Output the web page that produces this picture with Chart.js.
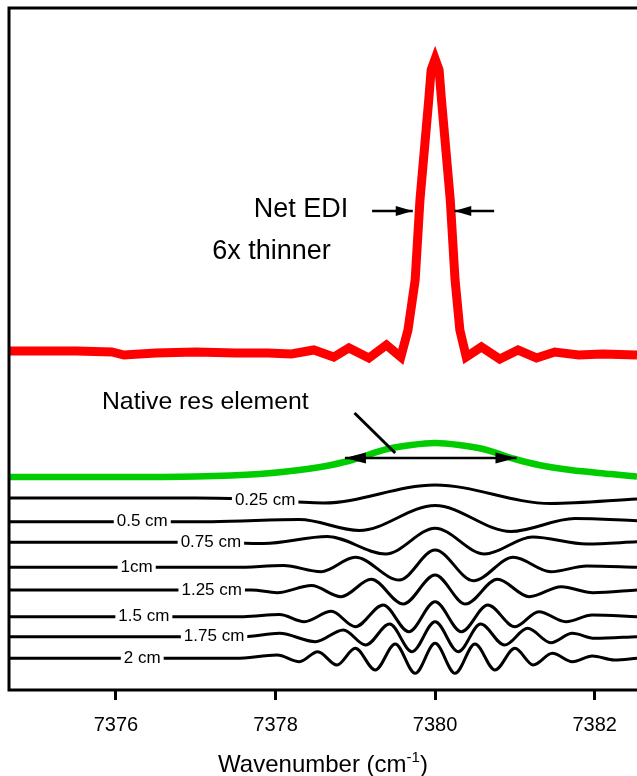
<!DOCTYPE html>
<html>
<head>
<meta charset="utf-8">
<script src="https://cdn.jsdelivr.net/npm/chart.js@4.4.0/dist/chart.umd.min.js"></script>
<style>
  html, body { margin: 0; padding: 0; background: #fff; }
  #wrap { width: 637px; height: 776px; }
</style>
</head>
<body>
<div id="wrap"><canvas id="chart" width="637" height="776"></canvas></div>
<script>
const FONT = '"Liberation Sans", Arial, Helvetica, sans-serif';

var tickValues = [7376, 7378, 7380, 7382];

// [wavenumber, intensity] pairs, traces already offset for stacking
var netEdi = [
  [7374.66, 33.9], [7375.5, 33.9], [7375.95, 33.8], [7376.1, 33.5], [7376.5, 33.7],
  [7377.0, 33.8], [7377.5, 33.7], [7377.9, 33.7], [7378.2, 33.6], [7378.48, 34.0],
  [7378.73, 33.3], [7378.92, 34.2], [7379.17, 33.2], [7379.39, 34.5], [7379.57, 33.3],
  [7379.66, 36.0], [7379.75, 41.0], [7379.81, 49.0], [7379.92, 59.0], [7379.95, 62.0],
  [7380.0, 63.1],
  [7380.05, 62.0], [7380.08, 59.0], [7380.19, 49.0], [7380.25, 41.0], [7380.31, 36.0],
  [7380.39, 33.3], [7380.58, 34.3], [7380.81, 33.1], [7381.04, 34.0], [7381.27, 33.2],
  [7381.5, 33.8], [7381.8, 33.5], [7382.1, 33.6], [7382.53, 33.5]
];

var nativeRes = [
  [7374.66, 21.3], [7376.0, 21.3], [7377.0, 21.35], [7377.8, 21.6], [7378.3, 22.0],
  [7378.7, 22.5], [7379.0, 23.1], [7379.4, 24.1], [7379.7, 24.5], [7380.0, 24.7],
  [7380.3, 24.5], [7380.6, 24.1], [7381.0, 23.1], [7381.3, 22.5], [7381.7, 22.0],
  [7382.2, 21.6], [7382.53, 21.35]
];

var pathLabels = ['0.25 cm', '0.5 cm', '0.75 cm', '1cm', '1.25 cm', '1.5 cm', '1.75 cm', '2 cm'];
var pathLabelAt = [7377.87, 7376.33, 7377.19, 7376.26, 7377.2, 7376.35, 7377.23, 7376.33];

var path025 = [
  [7374.66, 19.2], [7377.0, 19.2], [7377.6, 19.1], [7378.6, 18.7], [7380.0, 20.5],
  [7381.45, 18.65], [7382.53, 19.1]
];
var path050 = [
  [7374.66, 16.83], [7377.2, 16.83], [7378.3, 17.05], [7379.05, 15.95], [7380.0, 18.45],
  [7380.95, 15.85], [7381.75, 17.15], [7382.53, 16.93]
];
var path075 = [
  [7374.66, 14.77], [7377.2, 14.77], [7377.85, 14.65], [7378.65, 15.35], [7379.38, 13.6],
  [7380.0, 16.17], [7380.62, 13.6], [7381.22, 15.3], [7381.9, 14.6], [7382.53, 14.83]
];
var path100 = [
  [7374.66, 12.27], [7377.5, 12.27], [7378.1, 12.45], [7378.57, 11.83], [7379.0, 13.27],
  [7379.55, 11.0], [7380.0, 14.0], [7380.48, 10.93], [7380.98, 13.27], [7381.45, 11.83],
  [7381.9, 12.4], [7382.53, 12.27]
];
var path125 = [
  [7374.66, 10.0], [7377.7, 10.0], [7378.02, 9.73], [7378.45, 10.45], [7378.82, 9.33],
  [7379.2, 11.07], [7379.6, 8.6], [7380.0, 11.5], [7380.38, 8.6], [7380.78, 11.07],
  [7381.18, 9.33], [7381.58, 10.33], [7381.98, 9.73], [7382.53, 10.0]
];
var path150 = [
  [7374.66, 7.33], [7377.6, 7.33], [7378.05, 7.55], [7378.36, 6.83], [7378.7, 7.87],
  [7379.0, 6.33], [7379.35, 8.5], [7379.67, 5.83], [7380.0, 8.83], [7380.33, 5.83],
  [7380.66, 8.5], [7381.0, 6.33], [7381.3, 7.83], [7381.64, 6.83], [7381.97, 7.5],
  [7382.53, 7.33]
];
var path175 = [
  [7374.66, 5.33], [7377.6, 5.33], [7378.05, 5.67], [7378.5, 4.83], [7378.85, 6.0],
  [7379.13, 4.5], [7379.43, 6.6], [7379.71, 3.83], [7380.0, 6.83], [7380.29, 3.83],
  [7380.57, 6.6], [7380.87, 4.5], [7381.16, 6.17], [7381.45, 4.73], [7381.72, 5.67],
  [7382.0, 5.17], [7382.53, 5.33]
];
var path200 = [
  [7374.66, 3.17], [7377.5, 3.17], [7378.02, 3.5], [7378.3, 2.83], [7378.53, 3.83],
  [7378.77, 2.5], [7379.0, 4.17], [7379.25, 2.0], [7379.5, 4.6], [7379.75, 1.67],
  [7380.0, 4.67], [7380.25, 1.67], [7380.5, 4.6], [7380.75, 2.0], [7381.0, 4.17],
  [7381.23, 2.5], [7381.47, 3.67], [7381.72, 2.83], [7381.97, 3.4], [7382.25, 3.0],
  [7382.53, 3.17]
];

var pathTraces = [path025, path050, path075, path100, path125, path150, path175, path200];

// text and arrows placed in data coordinates
var notes = [
  { text: 'Net EDI', x: 7378.32, y: 48.0, size: 27 },
  { text: '6x thinner', x: 7377.95, y: 43.8, size: 27 },
  { text: 'Native res element', x: 7377.12, y: 28.8, size: 24.8 }
];
var arrows = [
  { from: [7379.21, 47.9], to: [7379.72, 47.9], heads: 'end', len: 17, half: 5 },
  { from: [7380.74, 47.9], to: [7380.24, 47.9], heads: 'end', len: 17, half: 5 },
  { from: [7378.87, 23.2], to: [7381.02, 23.2], heads: 'both', len: 21, half: 5.5 },
  { from: [7378.99, 27.7], to: [7379.5, 23.7], heads: 'none' }
];

function toPoints(pairs) {
  return pairs.map(function (p) { return { x: p[0], y: p[1] }; });
}

function lineYAt(meta, px) {
  var pts = meta.data;
  for (var i = 1; i < pts.length; i++) {
    if (pts[i].x >= px) {
      var a = pts[i - 1], b = pts[i];
      return a.y + (b.y - a.y) * (px - a.x) / (b.x - a.x);
    }
  }
  return pts[pts.length - 1].y;
}

function arrowHead(ctx, x0, y0, x1, y1, len, half) {
  var a = Math.atan2(y1 - y0, x1 - x0);
  ctx.beginPath();
  ctx.moveTo(x1, y1);
  ctx.lineTo(x1 - len * Math.cos(a) + half * Math.sin(a), y1 - len * Math.sin(a) - half * Math.cos(a));
  ctx.lineTo(x1 - len * Math.cos(a) - half * Math.sin(a), y1 - len * Math.sin(a) + half * Math.cos(a));
  ctx.closePath();
  ctx.fill();
}

var decor = {
  id: 'decor',
  afterDatasetsDraw: function (chart) {
    var ctx = chart.ctx;
    var xs = chart.scales.x, ys = chart.scales.y;
    ctx.save();

    // path difference labels sitting on each trace
    ctx.font = '17px ' + FONT;
    ctx.textAlign = 'center';
    ctx.textBaseline = 'middle';
    pathLabels.forEach(function (label, i) {
      var meta = chart.getDatasetMeta(i + 2);
      var px = xs.getPixelForValue(pathLabelAt[i]);
      var py = lineYAt(meta, px);
      var w = ctx.measureText(label).width + 6;
      ctx.fillStyle = '#fff';
      ctx.fillRect(px - w / 2, py - 7, w, 14);
      ctx.fillStyle = '#000';
      ctx.fillText(label, px, py);
    });

    notes.forEach(function (n) {
      ctx.font = n.size + 'px ' + FONT;
      ctx.fillText(n.text, xs.getPixelForValue(n.x), ys.getPixelForValue(n.y));
    });

    ctx.strokeStyle = '#000';
    ctx.fillStyle = '#000';
    arrows.forEach(function (a) {
      var x0 = xs.getPixelForValue(a.from[0]), y0 = ys.getPixelForValue(a.from[1]);
      var x1 = xs.getPixelForValue(a.to[0]), y1 = ys.getPixelForValue(a.to[1]);
      ctx.lineWidth = a.heads === 'none' ? 3 : 2.5;
      ctx.beginPath();
      ctx.moveTo(x0, y0);
      ctx.lineTo(x1, y1);
      ctx.stroke();
      if (a.heads === 'end' || a.heads === 'both') {
        arrowHead(ctx, x0, y0, x1, y1, a.len, a.half);
      }
      if (a.heads === 'both') {
        arrowHead(ctx, x1, y1, x0, y0, a.len, a.half);
      }
    });

    ctx.restore();
  },
  afterDraw: function (chart) {
    var ctx = chart.ctx;
    var area = chart.chartArea;
    ctx.save();

    // open frame: top, left and bottom
    ctx.strokeStyle = '#000';
    ctx.lineWidth = 3;
    ctx.lineJoin = 'miter';
    ctx.beginPath();
    ctx.moveTo(chart.width + 2, area.top);
    ctx.lineTo(area.left, area.top);
    ctx.lineTo(area.left, area.bottom);
    ctx.lineTo(chart.width + 2, area.bottom);
    ctx.stroke();

    // axis title with superscript exponent
    var main = 'Wavenumber (cm', sup = '-1', tail = ')';
    ctx.fillStyle = '#000';
    ctx.textBaseline = 'alphabetic';
    ctx.textAlign = 'left';
    ctx.font = '24px ' + FONT;
    var wMain = ctx.measureText(main).width;
    var wTail = ctx.measureText(tail).width;
    ctx.font = '15px ' + FONT;
    var wSup = ctx.measureText(sup).width;
    var x = (area.left + area.right) / 2 - (wMain + wSup + wTail) / 2;
    var base = 772;
    ctx.font = '24px ' + FONT;
    ctx.fillText(main, x, base);
    ctx.font = '15px ' + FONT;
    ctx.fillText(sup, x + wMain, base - 10);
    ctx.font = '24px ' + FONT;
    ctx.fillText(tail, x + wMain + wSup, base);

    ctx.restore();
  }
};

var datasets = [
  {
    data: toPoints(netEdi),
    borderColor: '#ff0000',
    borderWidth: 9,
    borderJoinStyle: 'miter',
    tension: 0
  },
  {
    data: toPoints(nativeRes),
    borderColor: '#00cc00',
    borderWidth: 6.5,
    tension: 0.4,
    cubicInterpolationMode: 'monotone'
  }
];
pathTraces.forEach(function (t) {
  datasets.push({
    data: toPoints(t),
    borderColor: '#000',
    borderWidth: 3,
    borderJoinStyle: 'round',
    tension: 0.4,
    cubicInterpolationMode: 'monotone'
  });
});

var chart = new Chart(document.getElementById('chart').getContext('2d'), {
  type: 'line',
  data: { datasets: datasets },
  options: {
    responsive: false,
    animation: false,
    events: [],
    layout: { padding: { left: 9, top: 8, right: 0, bottom: 0 } },
    elements: { point: { radius: 0 } },
    plugins: {
      legend: { display: false },
      tooltip: { enabled: false }
    },
    scales: {
      x: {
        type: 'linear',
        min: 7374.66,
        max: 7382.53,
        afterBuildTicks: function (scale) {
          scale.ticks = tickValues.map(function (v) { return { value: v }; });
        },
        afterFit: function (scale) {
          scale.height = 86;
        },
        border: { display: false },
        grid: {
          drawOnChartArea: false,
          color: '#000',
          tickColor: '#000',
          tickWidth: 3,
          tickLength: 10
        },
        ticks: {
          color: '#000',
          padding: 13,
          maxRotation: 0,
          font: { family: FONT, size: 20 },
          callback: function (v) { return String(v); }
        }
      },
      y: {
        display: false,
        min: 0,
        max: 68.2
      }
    }
  },
  plugins: [decor]
});
</script>
</body>
</html>
